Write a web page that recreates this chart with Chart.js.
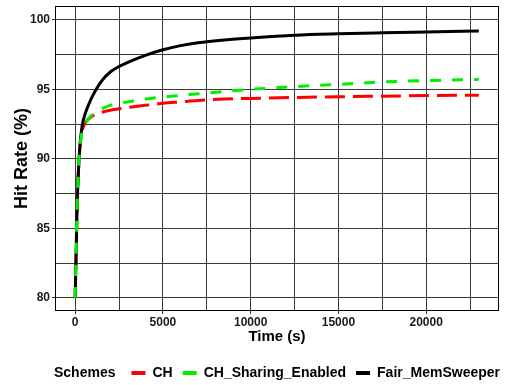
<!DOCTYPE html>
<html>
<head>
<meta charset="utf-8">
<script src="https://cdn.jsdelivr.net/npm/chart.js@4.4.1/dist/chart.umd.min.js"></script>
<style>
  body { margin: 0; background: #fff; }
  #wrap { width: 506px; height: 385px; position: relative; }
</style>
</head>
<body>
<div id="wrap"><canvas id="chart"></canvas></div>
<script>
// time points (s) shared by all schemes
const timeSec = [0, 120, 250, 400, 600, 800, 1000, 1500, 2000, 2500, 3000, 4000, 5000, 6000, 7000, 8500, 10000, 12500, 15000, 17500, 20000, 23000];
const hitCH = [80, 87, 90.5, 92.0, 92.65, 92.9, 93.1, 93.35, 93.5, 93.6, 93.7, 93.85, 94.0, 94.1, 94.2, 94.3, 94.35, 94.42, 94.47, 94.51, 94.55, 94.58];
const hitSharing = [80, 87, 90.5, 92.0, 92.6, 92.95, 93.2, 93.6, 93.85, 94.0, 94.1, 94.3, 94.45, 94.56, 94.68, 94.85, 95.0, 95.2, 95.36, 95.53, 95.63, 95.72];
const hitFair = [80, 87, 90.6, 92.4, 93.35, 94.0, 94.55, 95.6, 96.25, 96.65, 96.95, 97.45, 97.85, 98.15, 98.35, 98.55, 98.7, 98.9, 99.0, 99.07, 99.13, 99.2];

const schemeNames = ['CH', 'CH_Sharing_Enabled', 'Fair_MemSweeper'];
const schemeColors = ['#ff0000', '#00ee00', '#000000'];

// grid / tick positions
const xGrid = [0, 2500, 5000, 7500, 10000, 12500, 15000, 17500, 20000, 22500];
const xLabels = [0, 5000, 10000, 15000, 20000];
const yGrid = [80, 82.5, 85, 87.5, 90, 92.5, 95, 97.5, 100];
const yLabels = [80, 85, 90, 95, 100];

const FONT = '"Liberation Sans", Arial, sans-serif';

function toPoints(vals) {
    return vals.map((v, i) => ({ x: timeSec[i], y: v }));
}

const legendShift = { dx: 11, dy: 7 };

const panelBorder = {
    id: 'panelBorder',
    afterLayout(chart) {
        const lg = chart.legend;
        lg.left += legendShift.dx;
        lg.right += legendShift.dx;
        lg.top += legendShift.dy;
        lg.bottom += legendShift.dy;
    },
    afterDatasetsDraw(chart) {
        const a = chart.chartArea;
        const ctx = chart.ctx;
        ctx.save();
        ctx.strokeStyle = '#000';
        ctx.lineWidth = 1;
        ctx.strokeRect(a.left + 0.5, a.top + 0.5, a.right - a.left - 1, a.bottom - a.top - 1);
        ctx.restore();
    },
    afterDraw(chart) {
        // legend title drawn inline, left of the keys
        const boxes = chart.legend.legendHitBoxes;
        if (!boxes || !boxes.length) return;
        const ctx = chart.ctx;
        ctx.save();
        ctx.font = 'bold 14px ' + FONT;
        ctx.fillStyle = '#000';
        ctx.textBaseline = 'middle';
        ctx.textAlign = 'left';
        ctx.fillText('Schemes', 54, boxes[0].top + boxes[0].height / 2);
        ctx.restore();
    }
};

const ctx = document.getElementById('chart').getContext('2d');
const chart = new Chart(ctx, {
    type: 'line',
    data: {
        datasets: [
            {
                label: schemeNames[0],
                data: toPoints(hitCH),
                borderColor: schemeColors[0],
                backgroundColor: schemeColors[0],
                borderWidth: 3,
                borderDash: [20, 8],
                order: 3
            },
            {
                label: schemeNames[1],
                data: toPoints(hitSharing),
                borderColor: schemeColors[1],
                backgroundColor: schemeColors[1],
                borderWidth: 3,
                borderDash: [11, 11],
                order: 1
            },
            {
                label: schemeNames[2],
                data: toPoints(hitFair),
                borderColor: schemeColors[2],
                backgroundColor: schemeColors[2],
                borderWidth: 3,
                order: 2
            }
        ]
    },
    options: {
        responsive: true,
        maintainAspectRatio: false,
        animation: false,
        layout: {
            padding: { left: 0, right: 7, top: 6, bottom: 2 }
        },
        elements: {
            point: { radius: 0 },
            line: { cubicInterpolationMode: 'monotone', borderCapStyle: 'butt' }
        },
        scales: {
            x: {
                type: 'linear',
                min: -1150,
                max: 24150,
                afterBuildTicks: function(scale) {
                    scale.ticks = xGrid.map(v => ({ value: v }));
                },
                afterFit: function(scale) {
                    scale.height = 38;
                },
                grid: {
                    color: '#3a3a3a',
                    lineWidth: 1,
                    tickLength: 3,
                    tickColor: function(c) {
                        return xLabels.includes(c.tick.value) ? '#333' : 'rgba(0,0,0,0)';
                    }
                },
                border: { display: false },
                ticks: {
                    autoSkip: false,
                    maxRotation: 0,
                    padding: 1,
                    color: '#1a1a1a',
                    font: { family: FONT, size: 12, weight: 'bold' },
                    callback: function(value) {
                        return xLabels.includes(value) ? String(value) : '';
                    }
                },
                title: {
                    display: true,
                    text: 'Time (s)',
                    color: '#000',
                    padding: { top: 0, bottom: 3 },
                    font: { family: FONT, size: 15, weight: 'bold' }
                }
            },
            y: {
                min: 79.05,
                max: 101,
                afterBuildTicks: function(scale) {
                    scale.ticks = yGrid.map(v => ({ value: v }));
                },
                afterFit: function(scale) {
                    scale.width = 55;
                    scale.paddingTop = 0;
                    scale.paddingBottom = 0;
                },
                grid: {
                    color: '#3a3a3a',
                    lineWidth: 1,
                    tickLength: 3,
                    tickColor: function(c) {
                        return yLabels.includes(c.tick.value) ? '#333' : 'rgba(0,0,0,0)';
                    }
                },
                border: { display: false },
                ticks: {
                    autoSkip: false,
                    padding: 2,
                    color: '#1a1a1a',
                    font: { family: FONT, size: 12, weight: 'bold' },
                    callback: function(value) {
                        return yLabels.includes(value) ? String(value) : '';
                    }
                },
                title: {
                    display: true,
                    text: 'Hit Rate (%)',
                    color: '#000',
                    padding: { top: 11, bottom: 0 },
                    font: { family: FONT, size: 18, weight: 'bold' }
                }
            }
        },
        plugins: {
            title: { display: false },
            tooltip: { enabled: false },
            legend: {
                position: 'bottom',
                align: 'end',
                labels: {
                    boxWidth: 14,
                    boxHeight: 4,
                    padding: 10,
                    color: '#000',
                    font: { family: FONT, size: 14, weight: 'bold' },
                    generateLabels: function(chart) {
                        return chart.data.datasets.map((ds, i) => ({
                            text: ds.label,
                            fillStyle: ds.borderColor,
                            strokeStyle: ds.borderColor,
                            lineWidth: 0,
                            fontColor: '#000',
                            hidden: false,
                            datasetIndex: i
                        }));
                    }
                }
            }
        }
    },
    plugins: [panelBorder]
});
</script>
</body>
</html>
